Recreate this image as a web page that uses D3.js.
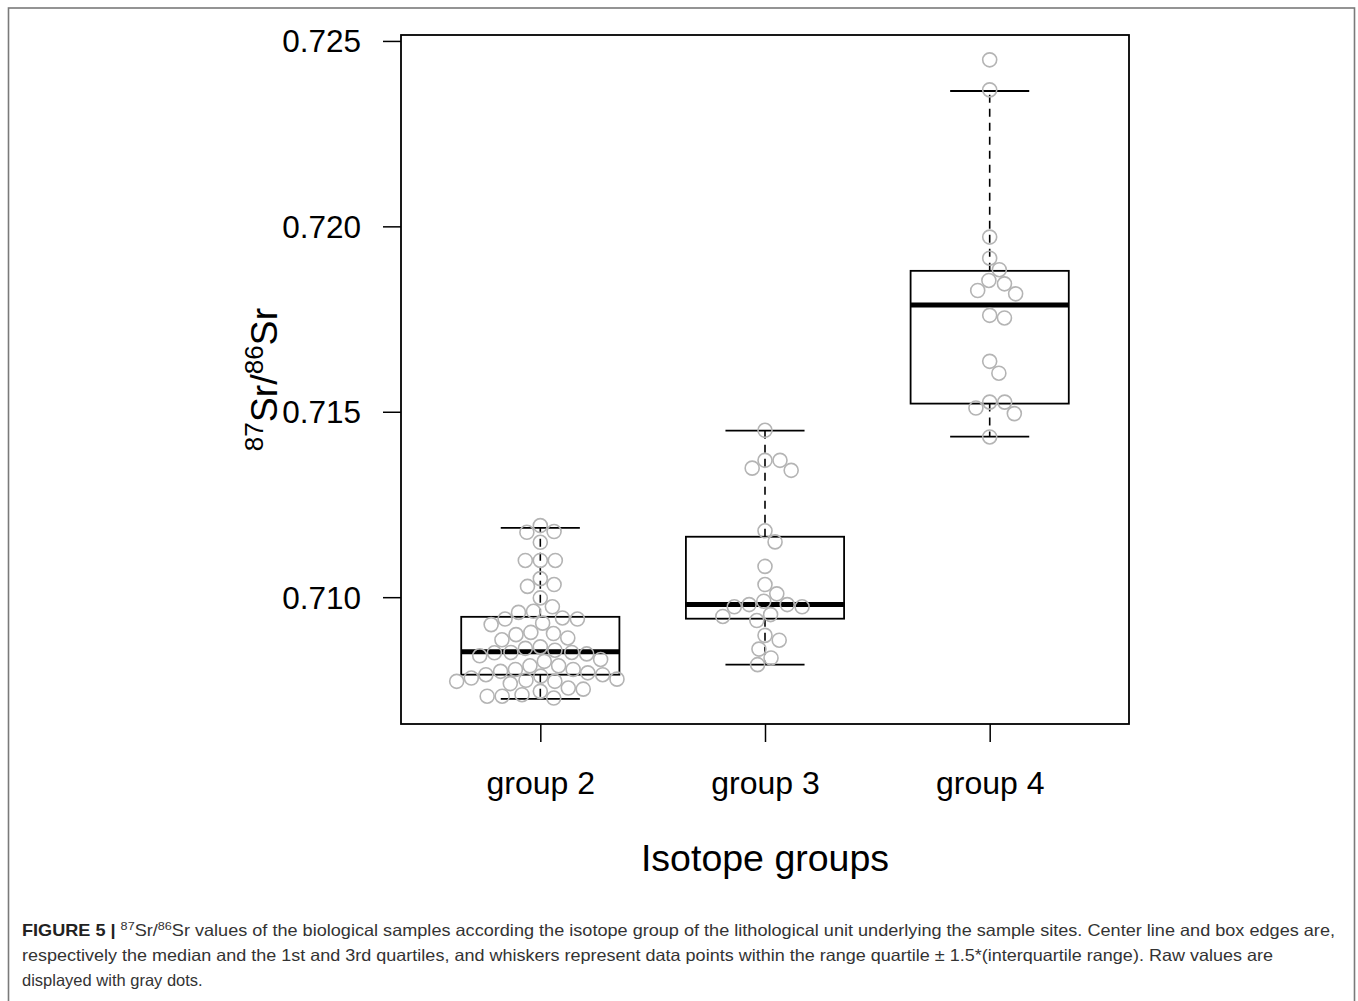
<!DOCTYPE html>
<html><head><meta charset="utf-8">
<script src="https://cdn.jsdelivr.net/npm/d3@7"></script>
<style>body{margin:0;background:#fff}svg{display:block}</style>
</head><body>
<svg id="c" width="1358" height="1001"></svg>
<script>
// ---- data ----
const categories = ["group 2", "group 3", "group 4"];
const yTicks = [0.710, 0.715, 0.720, 0.725];
const yTickLabels = ["0.710", "0.715", "0.720", "0.725"];
const yLimits = [0.70658, 0.72516];
const whiskerLow  = [0.70726, 0.70818, 0.71433];
const q1          = [0.70791, 0.70942, 0.71522];
const medians     = [0.70853, 0.70980, 0.71788];
const q3          = [0.70947, 0.71163, 0.71880];
const whiskerHigh = [0.71187, 0.71449, 0.72365];

const group2 = [0.71193, 0.71175, 0.71177, 0.71148, 0.71099, 0.71099, 0.71099, 0.71050,
  0.71029, 0.71034, 0.70998, 0.70974, 0.70959, 0.70962, 0.70941, 0.70941, 0.70944, 0.70930,
  0.70926, 0.70899, 0.70905, 0.70902, 0.70890, 0.70885, 0.70850, 0.70857, 0.70842, 0.70851,
  0.70866, 0.70847, 0.70862, 0.70851, 0.70832, 0.70827, 0.70815, 0.70815, 0.70805, 0.70805,
  0.70800, 0.70787, 0.70796, 0.70782, 0.70779, 0.70791, 0.70791, 0.70776, 0.70773, 0.70773,
  0.70767, 0.70746, 0.70737, 0.70733, 0.70733, 0.70755, 0.70752, 0.70728];
const group3 = [0.71450, 0.71369, 0.71369, 0.71348, 0.71342, 0.71179, 0.71149, 0.71083,
  0.71034, 0.71009, 0.70974, 0.70974, 0.70980, 0.70980, 0.70989, 0.70948, 0.70953, 0.70937,
  0.70884, 0.70897, 0.70860, 0.70836, 0.70818];
const group4 = [0.72449, 0.72368, 0.71971, 0.71914, 0.71883, 0.71845, 0.71854, 0.71827,
  0.71818, 0.71753, 0.71760, 0.71636, 0.71604, 0.71510, 0.71526, 0.71526, 0.71495, 0.71432];
const groups = [group2, group3, group4];

// ---- drawing ----
const svg = d3.select("#c");
const font = "'Liberation Sans', Arial, sans-serif";

// outer figure frame
svg.append("rect").attr("x", 8.5).attr("y", 8).attr("width", 1346).attr("height", 1020)
  .attr("fill", "none").attr("stroke", "#7a7a7a").attr("stroke-width", 1.6);

const x = d3.scaleLinear().domain([0.38, 3.62]).range([401, 1129]);
const y = d3.scaleLinear().domain(yLimits).range([724, 35]);

const halfBox = x(0.352) - x(0);
const halfCap = x(0.176) - x(0);

// y axis
const yAxis = svg.append("g").attr("transform", "translate(401,0)")
  .call(d3.axisLeft(y).tickValues(yTicks).tickFormat((d, i) => yTickLabels[i])
    .tickSize(18).tickPadding(22));
yAxis.select(".domain").remove();
yAxis.selectAll("line").attr("stroke", "#000").attr("stroke-width", 1.5);
yAxis.selectAll("text").attr("font-family", font).attr("font-size", 31.5).attr("fill", "#000")
  .attr("dy", "0.35em");

// x axis
const xAxis = svg.append("g").attr("transform", "translate(0,724)")
  .call(d3.axisBottom(x).tickValues([1, 2, 3]).tickFormat(d => categories[d - 1])
    .tickSize(18).tickPadding(29));
xAxis.select(".domain").remove();
xAxis.selectAll("line").attr("stroke", "#000").attr("stroke-width", 1.5);
xAxis.selectAll("text").attr("font-family", font).attr("font-size", 32).attr("fill", "#000");

// boxplots
const bp = svg.append("g");
categories.forEach((c, i) => {
  const cx = x(i + 1);
  bp.append("line").attr("x1", cx).attr("x2", cx).attr("y1", y(q3[i])).attr("y2", y(whiskerHigh[i]))
    .attr("stroke", "#000").attr("stroke-width", 1.6).attr("stroke-dasharray", "8,6");
  bp.append("line").attr("x1", cx).attr("x2", cx).attr("y1", y(q1[i])).attr("y2", y(whiskerLow[i]))
    .attr("stroke", "#000").attr("stroke-width", 1.6).attr("stroke-dasharray", "8,6");
  [whiskerHigh[i], whiskerLow[i]].forEach(v => {
    bp.append("line").attr("x1", cx - halfCap).attr("x2", cx + halfCap).attr("y1", y(v)).attr("y2", y(v))
      .attr("stroke", "#000").attr("stroke-width", 1.8);
  });
  bp.append("rect").attr("x", cx - halfBox).attr("width", 2 * halfBox)
    .attr("y", y(q3[i])).attr("height", y(q1[i]) - y(q3[i]))
    .attr("fill", "none").attr("stroke", "#000").attr("stroke-width", 1.8);
  bp.append("line").attr("x1", cx - halfBox).attr("x2", cx + halfBox).attr("y1", y(medians[i])).attr("y2", y(medians[i]))
    .attr("stroke", "#000").attr("stroke-width", 5);
});

// plot frame
svg.append("rect").attr("x", x.range()[0]).attr("y", y.range()[1])
  .attr("width", x.range()[1] - x.range()[0]).attr("height", y.range()[0] - y.range()[1])
  .attr("fill", "none").attr("stroke", "#000").attr("stroke-width", 1.8);

// beeswarm layout of the raw values (computed)
function swarm(values, cx, s) {
  const placed = [];
  const order = values.map((v, i) => i).sort((a, b) => values[b] - values[a]);
  for (const i of order) {
    const py = y(values[i]);
    const cands = [0];
    for (const p of placed) {
      const dy = Math.abs(p.y - py);
      if (dy < s) { const dx = Math.sqrt(s * s - dy * dy); cands.push(p.dx + dx, p.dx - dx); }
    }
    cands.sort((a, b) => Math.abs(a) - Math.abs(b));
    const best = cands.find(c => placed.every(p => (p.dx - c) ** 2 + (p.y - py) ** 2 >= s * s - 0.01));
    placed.push({ dx: best, y: py });
  }
  return placed.map(p => ({ x: cx + p.dx, y: p.y }));
}
const dots = svg.append("g");
groups.forEach((g, i) => {
  dots.selectAll(null).data(swarm(g, x(i + 1), 15)).enter().append("circle")
    .attr("cx", d => d.x).attr("cy", d => d.y).attr("r", 7)
    .attr("fill", "none").attr("stroke", "#b4b4b4").attr("stroke-width", 1.6);
});

// axis titles
svg.append("text").attr("x", (x.range()[0] + x.range()[1]) / 2).attr("y", 871)
  .attr("text-anchor", "middle").attr("font-family", font).attr("font-size", 37.5).text("Isotope groups");

const yl = svg.append("text").attr("transform", `translate(277,${(y.range()[0] + y.range()[1]) / 2}) rotate(-90)`)
  .attr("text-anchor", "middle").attr("font-family", font).attr("font-size", 37.5);
yl.append("tspan").attr("font-size", 26).attr("dy", -14).text("87");
yl.append("tspan").attr("dy", 14).text("Sr/");
yl.append("tspan").attr("font-size", 26).attr("dy", -14).text("86");
yl.append("tspan").attr("dy", 14).text("Sr");

// caption
const cap = svg.append("g").attr("font-family", font).attr("fill", "#333").attr("font-size", 16.5);
const l1 = cap.append("text").attr("x", 22).attr("y", 936).attr("textLength", 1313).attr("lengthAdjust", "spacingAndGlyphs");
l1.append("tspan").attr("font-weight", "bold").attr("fill", "#222").text("FIGURE 5 | ");
l1.append("tspan").attr("font-size", 11.5).attr("dy", -6).text("87");
l1.append("tspan").attr("dy", 6).text("Sr/");
l1.append("tspan").attr("font-size", 11.5).attr("dy", -6).text("86");
l1.append("tspan").attr("dy", 6).text("Sr values of the biological samples according the isotope group of the lithological unit underlying the sample sites. Center line and box edges are,");
cap.append("text").attr("x", 22).attr("y", 961).attr("textLength", 1251).attr("lengthAdjust", "spacingAndGlyphs")
  .text("respectively the median and the 1st and 3rd quartiles, and whiskers represent data points within the range quartile \u00b1 1.5*(interquartile range). Raw values are");
cap.append("text").attr("x", 22).attr("y", 986).text("displayed with gray dots.");
</script>
</body></html>
